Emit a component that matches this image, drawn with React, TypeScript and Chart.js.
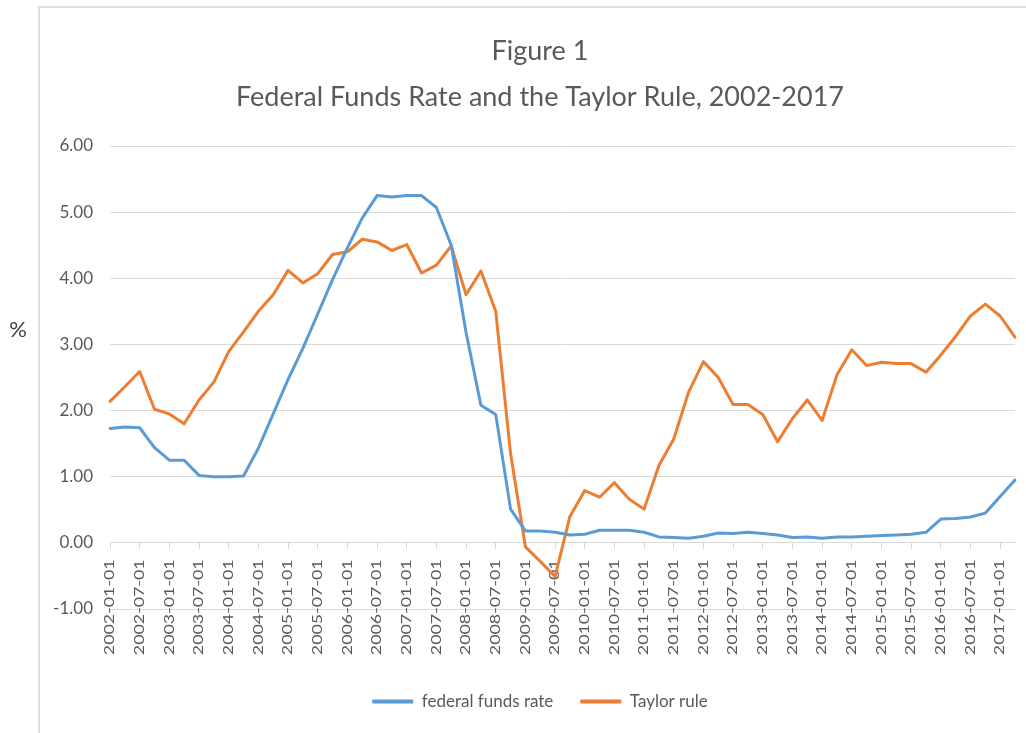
import React, { useEffect, useRef } from 'react';
import { Chart, registerables, CategoryScale } from 'chart.js';

const dates = [
  '2002-01-01', '2002-04-01', '2002-07-01', '2002-10-01',
  '2003-01-01', '2003-04-01', '2003-07-01', '2003-10-01',
  '2004-01-01', '2004-04-01', '2004-07-01', '2004-10-01',
  '2005-01-01', '2005-04-01', '2005-07-01', '2005-10-01',
  '2006-01-01', '2006-04-01', '2006-07-01', '2006-10-01',
  '2007-01-01', '2007-04-01', '2007-07-01', '2007-10-01',
  '2008-01-01', '2008-04-01', '2008-07-01', '2008-10-01',
  '2009-01-01', '2009-04-01', '2009-07-01', '2009-10-01',
  '2010-01-01', '2010-04-01', '2010-07-01', '2010-10-01',
  '2011-01-01', '2011-04-01', '2011-07-01', '2011-10-01',
  '2012-01-01', '2012-04-01', '2012-07-01', '2012-10-01',
  '2013-01-01', '2013-04-01', '2013-07-01', '2013-10-01',
  '2014-01-01', '2014-04-01', '2014-07-01', '2014-10-01',
  '2015-01-01', '2015-04-01', '2015-07-01', '2015-10-01',
  '2016-01-01', '2016-04-01', '2016-07-01', '2016-10-01',
  '2017-01-01', '2017-04-01',
];

const fedFundsRate = [
  1.73, 1.75, 1.74, 1.44, 1.25, 1.25, 1.02, 1.00, 1.00, 1.01,
  1.43, 1.95, 2.47, 2.94, 3.46, 3.98, 4.46, 4.91, 5.25, 5.23,
  5.25, 5.25, 5.07, 4.50, 3.18, 2.08, 1.94, 0.51, 0.18, 0.18,
  0.16, 0.12, 0.13, 0.19, 0.19, 0.19, 0.16, 0.09, 0.08, 0.07,
  0.10, 0.15, 0.14, 0.16, 0.14, 0.12, 0.08, 0.09, 0.07, 0.09,
  0.09, 0.10, 0.11, 0.12, 0.13, 0.16, 0.36, 0.37, 0.39, 0.45,
  0.70, 0.95,
];

const taylorRule = [
  2.14, 2.36, 2.59, 2.02, 1.95, 1.80, 2.16, 2.43, 2.89, 3.19,
  3.50, 3.75, 4.12, 3.93, 4.07, 4.36, 4.40, 4.59, 4.55, 4.42,
  4.51, 4.08, 4.20, 4.49, 3.75, 4.11, 3.50, 1.35, -0.06, -0.28,
  -0.51, 0.40, 0.79, 0.69, 0.91, 0.66, 0.51, 1.17, 1.57, 2.28,
  2.74, 2.50, 2.09, 2.09, 1.94, 1.53, 1.88, 2.16, 1.85, 2.54,
  2.92, 2.68, 2.73, 2.71, 2.71, 2.58, 2.84, 3.12, 3.43, 3.61,
  3.43, 3.11,
];

const seriesNames = ['federal funds rate', 'Taylor rule'];
const titleLines = ['Figure 1', 'Federal Funds Rate and the Taylor Rule, 2002-2017'];
const yAxisTitle = '%';
const yMin = -1;
const yMax = 6;
const yStep = 1;

const FONT = 'Lato';
const TEXT = '#595959';
const GRID = '#d9d9d9';
const BLUE = '#5b9bd5';
const ORANGE = '#ed7d31';

class StretchedCategoryScale extends CategoryScale {
  static id = 'stretchedCategory';
  static defaults = CategoryScale.defaults;
  drawLabels(chartArea: any) {
    const ctx = this.ctx;
    const yScale = (this as any).chart.scales.y;
    const y0 = yScale.getPixelForValue(0);
    const s = (this.options as any).labelStretch || 1;
    ctx.save();
    ctx.translate(0, y0);
    ctx.scale(1, s);
    ctx.translate(0, -y0);
    super.drawLabels(chartArea);
    ctx.restore();
  }
}

Chart.register(...registerables, StretchedCategoryScale);

const framePlugin = {
  id: 'frame',
  afterLayout(chart: any) {
    // let the value-axis labels use the space left of the axis box
    chart.scales.y.left = 40;
  },
  beforeDraw(chart: any) {
    const ctx = chart.ctx;
    ctx.save();
    ctx.fillStyle = '#ffffff';
    ctx.fillRect(0, 0, chart.width, chart.height);
    ctx.strokeStyle = '#dedede';
    ctx.lineWidth = 2;
    ctx.beginPath();
    ctx.moveTo(39, chart.height);
    ctx.lineTo(39, 7);
    ctx.lineTo(chart.width, 7);
    ctx.stroke();
    ctx.fillStyle = '#404040';
    ctx.font = `22px ${FONT}`;
    ctx.textAlign = 'center';
    ctx.textBaseline = 'middle';
    ctx.fillText(yAxisTitle, 18, 330);
    ctx.restore();
  },
};

export default function App() {
  const canvasRef = useRef<HTMLCanvasElement | null>(null);

  useEffect(() => {
    const canvas = canvasRef.current;
    if (!canvas) return;
    const chart = new Chart(canvas, {
      type: 'line',
      data: {
        labels: dates,
        datasets: [
          {
            label: seriesNames[0],
            data: fedFundsRate,
            borderColor: BLUE,
            backgroundColor: BLUE,
            borderWidth: 3,
            pointRadius: 0,
            tension: 0,
            borderJoinStyle: 'round',
            borderCapStyle: 'round',
          },
          {
            label: seriesNames[1],
            data: taylorRule,
            borderColor: ORANGE,
            backgroundColor: ORANGE,
            borderWidth: 3,
            pointRadius: 0,
            tension: 0,
            borderJoinStyle: 'round',
            borderCapStyle: 'round',
          },
        ],
      },
      options: {
        responsive: false,
        animation: false,
        devicePixelRatio: 1,
        layout: { padding: { left: 65, right: 11, top: 0, bottom: 13 } },
        scales: {
          x: {
            type: 'stretchedCategory',
            position: { y: 0 },
            offset: false,
            labelStretch: 1.37,
            grid: { drawOnChartArea: false, drawTicks: true, tickLength: 6, color: GRID, lineWidth: 1 },
            border: { display: true, color: GRID, width: 1 },
            ticks: {
              autoSkip: false,
              minRotation: 90,
              maxRotation: 90,
              padding: 6,
              color: TEXT,
              font: { family: FONT, size: 13 },
              callback: (_v: any, i: number) => (i % 2 === 0 ? dates[i] : null),
            },
            afterFit: (s: any) => {
              s.paddingLeft = 0;
              s.paddingRight = 0;
            },
          } as any,
          y: {
            min: yMin,
            max: yMax,
            ticks: {
              stepSize: yStep,
              padding: 17,
              color: TEXT,
              font: { family: FONT, size: 17 },
              callback: (v: any) => Number(v).toFixed(2),
            },
            grid: { color: GRID, lineWidth: 1, drawTicks: false },
            border: { display: false },
            afterFit: (s: any) => {
              s.width = 45;
            },
          },
        },
        plugins: {
          title: {
            display: true,
            text: titleLines,
            color: TEXT,
            font: { family: FONT, size: 27, weight: 'normal', lineHeight: '46px' },
            padding: { top: 28, bottom: 26 },
          },
          legend: {
            position: 'bottom',
            title: {
              display: true,
              text: '',
              padding: { top: 47, bottom: 0 },
              font: { size: 10, lineHeight: 1 },
            },
            labels: {
              boxWidth: 41,
              boxHeight: 4,
              padding: 27,
              color: TEXT,
              font: { family: FONT, size: 17 },
              generateLabels: (c: any) =>
                Chart.defaults.plugins.legend.labels
                  .generateLabels(c)
                  .map((l: any) => ({ ...l, lineWidth: 0, fillStyle: l.strokeStyle })),
            },
          },
          tooltip: { enabled: false },
        },
      } as any,
      plugins: [framePlugin],
    });
    return () => chart.destroy();
  }, []);

  return (
    <div style={{ position: 'fixed', left: 0, top: 0, width: 1026, height: 733, background: '#fff' }}>
      <canvas ref={canvasRef} width={1026} height={733} style={{ display: 'block' }} />
    </div>
  );
}
